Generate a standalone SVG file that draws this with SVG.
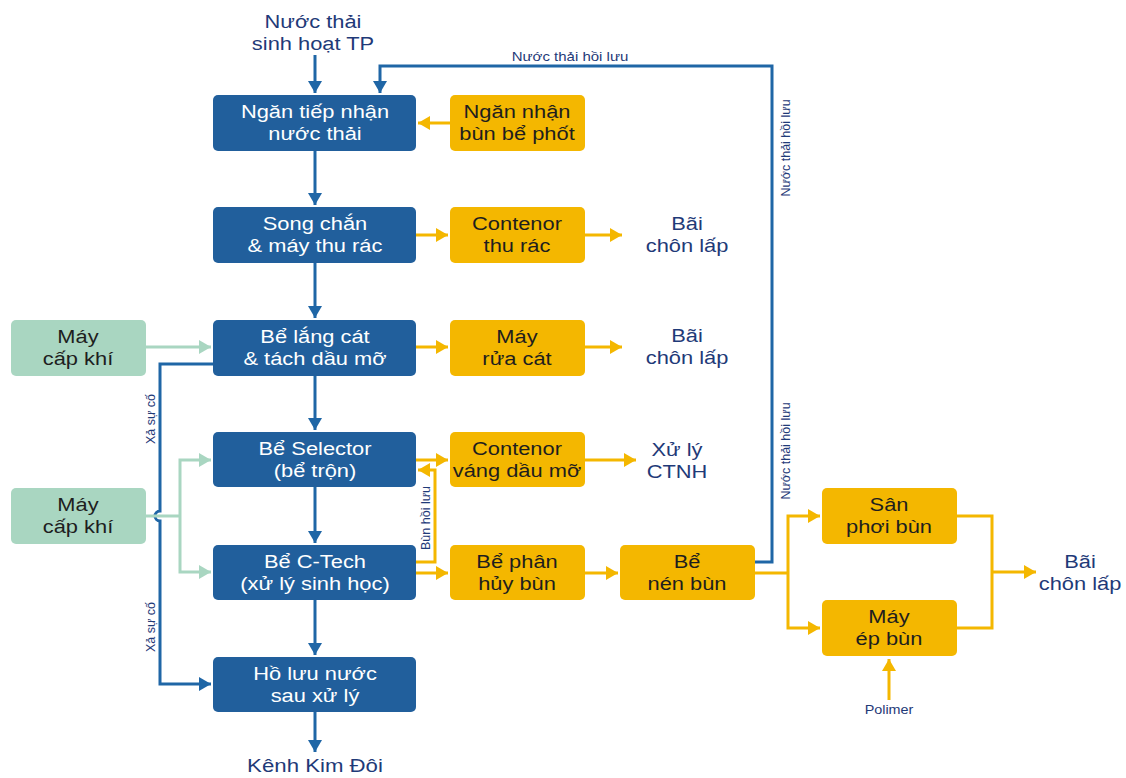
<svg xmlns="http://www.w3.org/2000/svg" width="1126" height="778" viewBox="0 0 1126 778">
<style>
.bg{fill:#ffffff}
.bb{fill:#215f9c}
.yb{fill:#f4b700}
.gb{fill:#a9d6c1}
text{font-family:"Liberation Sans",Arial,sans-serif;text-anchor:middle}
.tw{font-size:19px;fill:#ffffff}
.td{font-size:19px;fill:#1e1e1e}
.tn{font-size:19px;fill:#1f3a78}
.ts{font-size:12.5px;fill:#1f3a78}
.lb{fill:none;stroke:#1f66a6;stroke-width:3}
.ly{fill:none;stroke:#f4b700;stroke-width:3}
.lg{fill:none;stroke:#a9d6c1;stroke-width:3}
</style>
<defs>
<marker id="ab" markerUnits="userSpaceOnUse" markerWidth="14" markerHeight="14" refX="12" refY="7" orient="auto"><path d="M0,0 L12,7 L0,14 z" fill="#1f66a6"/></marker>
<marker id="ay" markerUnits="userSpaceOnUse" markerWidth="14" markerHeight="14" refX="12" refY="7" orient="auto"><path d="M0,0 L12,7 L0,14 z" fill="#f4b700"/></marker>
<marker id="ag" markerUnits="userSpaceOnUse" markerWidth="14" markerHeight="14" refX="12" refY="7" orient="auto"><path d="M0,0 L12,7 L0,14 z" fill="#a9d6c1"/></marker>
</defs>
<rect class="bg" x="0" y="0" width="1126" height="778"/>

<g id="connectors">
<path class="lb" d="M315,55 V93" marker-end="url(#ab)"/>
<path class="lb" d="M315,151 V205" marker-end="url(#ab)"/>
<path class="lb" d="M315,263 V318" marker-end="url(#ab)"/>
<path class="lb" d="M315,376 V430" marker-end="url(#ab)"/>
<path class="lb" d="M315,487 V543" marker-end="url(#ab)"/>
<path class="lb" d="M315,600 V655" marker-end="url(#ab)"/>
<path class="lb" d="M315,712 V752" marker-end="url(#ab)"/>
<path class="lb" d="M755,562 H772 V66 H380 V93" marker-end="url(#ab)"/>
<path class="lb" d="M213,364 H160 V511 A5,5 0 0 0 160,521 V684 H211" marker-end="url(#ab)"/>

<path class="lg" d="M146,347 H211" marker-end="url(#ag)"/>
<path class="lg" d="M146,516 H180"/>
<path class="lg" d="M180,516 V460 H211" marker-end="url(#ag)"/>
<path class="lg" d="M180,516 V572 H211" marker-end="url(#ag)"/>

<path class="ly" d="M450,123 H418" marker-end="url(#ay)"/>
<path class="ly" d="M416,235 H448" marker-end="url(#ay)"/>
<path class="ly" d="M585,235 H622" marker-end="url(#ay)"/>
<path class="ly" d="M416,347 H448" marker-end="url(#ay)"/>
<path class="ly" d="M585,347 H622" marker-end="url(#ay)"/>
<path class="ly" d="M416,460 H448" marker-end="url(#ay)"/>
<path class="ly" d="M585,460 H636" marker-end="url(#ay)"/>
<path class="ly" d="M416,562 H435 V470 H418" marker-end="url(#ay)"/>
<path class="ly" d="M416,573 H448" marker-end="url(#ay)"/>
<path class="ly" d="M585,573 H618" marker-end="url(#ay)"/>
<path class="ly" d="M755,573 H788"/>
<path class="ly" d="M788,573 V516 H820" marker-end="url(#ay)"/>
<path class="ly" d="M788,573 V628 H820" marker-end="url(#ay)"/>
<path class="ly" d="M957,516 H992 V628 H957"/>
<path class="ly" d="M992,572 H1036" marker-end="url(#ay)"/>
<path class="ly" d="M889,700 V659" marker-end="url(#ay)"/>

<text class="ts" transform="translate(570,61) scale(1.2,1)">Nước thải hồi lưu</text>
<text class="ts" transform="translate(790,148) rotate(-90)">Nước thải hồi lưu</text>
<text class="ts" transform="translate(790,451) rotate(-90)">Nước thải hồi lưu</text>
<text class="ts" transform="translate(155,419) rotate(-90)">Xả sự cố</text>
<text class="ts" transform="translate(155,627) rotate(-90)">Xả sự cố</text>
<text class="ts" transform="translate(430,518) rotate(-90)">Bùn hồi lưu</text>
</g>

<g id="in"><g transform="translate(313,0) scale(1.15,1)"><text class="tn" x="0" y="28">Nước thải</text><text class="tn" x="0" y="50">sinh hoạt TP</text></g></g>
<g id="out"><g transform="translate(315,0) scale(1.17,1)"><text class="tn" x="0" y="772">Kênh Kim Đôi</text></g></g>

<g id="b1"><rect class="bb" x="213" y="95" width="203" height="56" rx="5"/><g transform="translate(315,0) scale(1.15,1)"><text class="tw" x="0" y="118">Ngăn tiếp nhận</text><text class="tw" x="0" y="140">nước thải</text></g></g>
<g id="b2"><rect class="bb" x="213" y="207" width="203" height="56" rx="5"/><g transform="translate(315,0) scale(1.15,1)"><text class="tw" x="0" y="230">Song chắn</text><text class="tw" x="0" y="252">&amp; máy thu rác</text></g></g>
<g id="b3"><rect class="bb" x="213" y="320" width="203" height="56" rx="5"/><g transform="translate(315,0) scale(1.15,1)"><text class="tw" x="0" y="343">Bể lắng cát</text><text class="tw" x="0" y="365">&amp; tách dầu mỡ</text></g></g>
<g id="b4"><rect class="bb" x="213" y="432" width="203" height="55" rx="5"/><g transform="translate(315,0) scale(1.15,1)"><text class="tw" x="0" y="455">Bể Selector</text><text class="tw" x="0" y="477">(bể trộn)</text></g></g>
<g id="b5"><rect class="bb" x="213" y="545" width="203" height="55" rx="5"/><g transform="translate(315,0) scale(1.15,1)"><text class="tw" x="0" y="568">Bể C-Tech</text><text class="tw" x="0" y="590">(xử lý sinh học)</text></g></g>
<g id="b6"><rect class="bb" x="213" y="657" width="203" height="55" rx="5"/><g transform="translate(315,0) scale(1.15,1)"><text class="tw" x="0" y="680">Hồ lưu nước</text><text class="tw" x="0" y="702">sau xử lý</text></g></g>

<g id="y1"><rect class="yb" x="450" y="95" width="135" height="56" rx="5"/><g transform="translate(517,0) scale(1.15,1)"><text class="td" x="0" y="118">Ngăn nhận</text><text class="td" x="0" y="140">bùn bể phốt</text></g></g>
<g id="y2"><rect class="yb" x="450" y="207" width="135" height="56" rx="5"/><g transform="translate(517,0) scale(1.15,1)"><text class="td" x="0" y="230">Contenor</text><text class="td" x="0" y="252">thu rác</text></g></g>
<g id="y3"><rect class="yb" x="450" y="320" width="135" height="56" rx="5"/><g transform="translate(517,0) scale(1.15,1)"><text class="td" x="0" y="343">Máy</text><text class="td" x="0" y="365">rửa cát</text></g></g>
<g id="y4"><rect class="yb" x="450" y="432" width="135" height="55" rx="5"/><g transform="translate(517,0) scale(1.15,1)"><text class="td" x="0" y="455">Contenor</text><text class="td" x="0" y="477">váng dầu mỡ</text></g></g>
<g id="y5"><rect class="yb" x="450" y="545" width="135" height="55" rx="5"/><g transform="translate(517,0) scale(1.15,1)"><text class="td" x="0" y="568">Bể phân</text><text class="td" x="0" y="590">hủy bùn</text></g></g>
<g id="y6"><rect class="yb" x="620" y="545" width="135" height="55" rx="5"/><g transform="translate(687,0) scale(1.15,1)"><text class="td" x="0" y="568">Bể</text><text class="td" x="0" y="590">nén bùn</text></g></g>
<g id="y7"><rect class="yb" x="822" y="488" width="135" height="56" rx="5"/><g transform="translate(889,0) scale(1.15,1)"><text class="td" x="0" y="511">Sân</text><text class="td" x="0" y="533">phơi bùn</text></g></g>
<g id="y8"><rect class="yb" x="822" y="600" width="135" height="56" rx="5"/><g transform="translate(889,0) scale(1.15,1)"><text class="td" x="0" y="623">Máy</text><text class="td" x="0" y="645">ép bùn</text></g></g>

<g id="g1"><rect class="gb" x="11" y="320" width="135" height="56" rx="5"/><g transform="translate(78,0) scale(1.15,1)"><text class="td" x="0" y="343">Máy</text><text class="td" x="0" y="365">cấp khí</text></g></g>
<g id="g2"><rect class="gb" x="11" y="488" width="135" height="56" rx="5"/><g transform="translate(78,0) scale(1.15,1)"><text class="td" x="0" y="511">Máy</text><text class="td" x="0" y="533">cấp khí</text></g></g>

<g id="t1"><g transform="translate(687,0) scale(1.15,1)"><text class="tn" x="0" y="230">Bãi</text><text class="tn" x="0" y="252">chôn lấp</text></g></g>
<g id="t2"><g transform="translate(687,0) scale(1.15,1)"><text class="tn" x="0" y="342">Bãi</text><text class="tn" x="0" y="364">chôn lấp</text></g></g>
<g id="t3"><g transform="translate(677,0) scale(1.15,1)"><text class="tn" x="0" y="456">Xử lý</text><text class="tn" x="0" y="478">CTNH</text></g></g>
<g id="t4"><g transform="translate(1080,0) scale(1.15,1)"><text class="tn" x="0" y="568">Bãi</text><text class="tn" x="0" y="590">chôn lấp</text></g></g>
<g id="t5"><text class="ts" transform="translate(889,714) scale(1.15,1)">Polimer</text></g>
</svg>
